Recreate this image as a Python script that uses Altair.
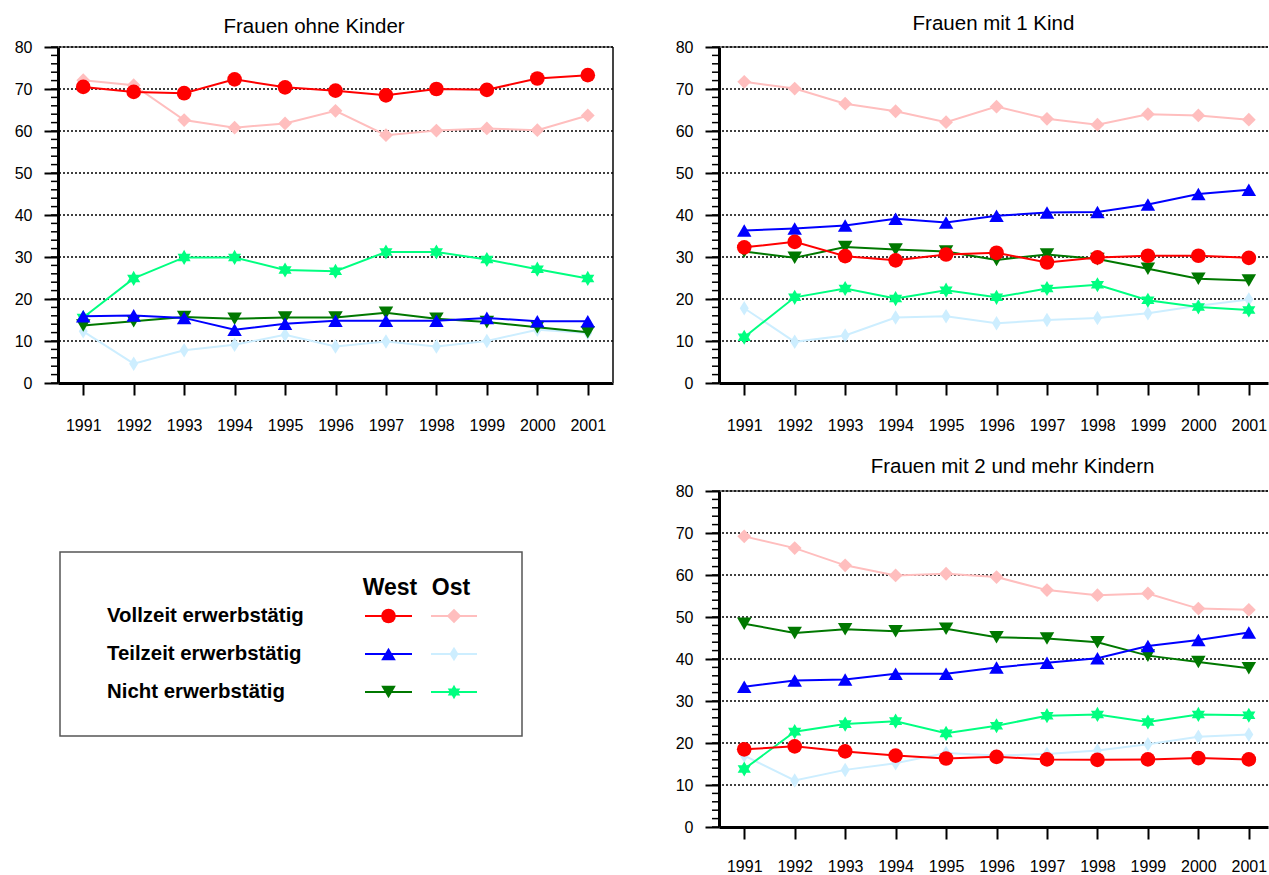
import altair as alt
import pandas as pd

years = [1991, 1992, 1993, 1994, 1995, 1996, 1997, 1998, 1999, 2000, 2001]

# Frauen ohne Kinder
ohne_west_vollzeit = [70.5, 69.3, 69.0, 72.3, 70.4, 69.6, 68.5, 70.0, 69.8, 72.5, 73.3]
ohne_ost_vollzeit = [72.1, 70.9, 62.6, 60.8, 61.8, 64.8, 59.0, 60.1, 60.6, 60.2, 63.7]
ohne_west_teilzeit = [15.9, 16.1, 15.5, 12.7, 14.1, 14.8, 14.8, 14.8, 15.5, 14.7, 14.7]
ohne_ost_teilzeit = [12.3, 4.6, 7.8, 9.1, 11.5, 8.7, 9.9, 8.7, 10.0, 12.7, 11.9]
ohne_west_nicht = [13.7, 14.7, 15.7, 15.3, 15.6, 15.6, 16.7, 15.3, 14.5, 13.3, 12.1]
ohne_ost_nicht = [15.6, 24.9, 29.9, 29.9, 26.9, 26.6, 31.2, 31.2, 29.4, 27.1, 24.9]

# Frauen mit 1 Kind
eins_west_vollzeit = [32.3, 33.6, 30.2, 29.2, 30.6, 31.0, 28.7, 29.9, 30.3, 30.3, 29.8]
eins_ost_vollzeit = [71.7, 70.1, 66.5, 64.7, 62.1, 65.8, 62.9, 61.5, 64.0, 63.7, 62.7]
eins_west_teilzeit = [36.3, 36.8, 37.5, 39.1, 38.2, 39.8, 40.6, 40.7, 42.5, 45.0, 46.0]
eins_ost_teilzeit = [17.8, 9.8, 11.3, 15.6, 15.9, 14.2, 15.0, 15.5, 16.6, 18.4, 19.9]
eins_west_nicht = [31.3, 29.8, 32.4, 31.8, 31.3, 29.3, 30.6, 29.5, 27.2, 24.8, 24.4]
eins_ost_nicht = [10.9, 20.4, 22.5, 20.1, 22.1, 20.4, 22.5, 23.4, 19.7, 18.1, 17.4]

# Frauen mit 2 und mehr Kindern
zwei_west_vollzeit = [18.5, 19.2, 18.0, 17.0, 16.3, 16.7, 16.1, 16.0, 16.1, 16.4, 16.1]
zwei_ost_vollzeit = [69.2, 66.4, 62.3, 59.9, 60.3, 59.5, 56.4, 55.2, 55.6, 52.0, 51.7]
zwei_west_teilzeit = [33.4, 34.9, 35.1, 36.5, 36.5, 38.0, 39.1, 40.2, 43.1, 44.5, 46.3]
zwei_ost_teilzeit = [17.0, 11.1, 13.6, 15.2, 17.6, 17.0, 17.4, 18.2, 19.7, 21.5, 22.0]
zwei_west_nicht = [48.4, 46.2, 47.1, 46.6, 47.2, 45.2, 44.9, 44.0, 40.8, 39.3, 37.8]
zwei_ost_nicht = [13.8, 22.7, 24.5, 25.2, 22.3, 24.1, 26.5, 26.8, 25.0, 26.8, 26.6]

panel_titles = ["Frauen ohne Kinder", "Frauen mit 1 Kind", "Frauen mit 2 und mehr Kindern"]

legend_labels = ["Vollzeit erwerbstätig", "Teilzeit erwerbstätig", "Nicht erwerbstätig"]
legend_west = ["West Vollzeit", "West Teilzeit", "West Nicht"]
legend_ost = ["Ost Vollzeit", "Ost Teilzeit", "Ost Nicht"]

y_major = [0, 10, 20, 30, 40, 50, 60, 70, 80]
y_minor = list(range(0, 81, 2))
grid_levels = [10, 20, 30, 40, 50, 60, 70, 80]

# symbol shapes
STAR = ("M0,-1L0.289,-0.5L0.866,-0.5L0.577,0L0.866,0.5L0.289,0.5L0,1"
        "L-0.289,0.5L-0.866,0.5L-0.577,0L-0.866,-0.5L-0.289,-0.5Z")
NARROW_DIAMOND = "M0,-1L0.62,0L0,1L-0.62,0Z"

styles = {
    "West Vollzeit": dict(color="#ff0000", shape="circle", size=215),
    "West Teilzeit": dict(color="#0000ff", shape="triangle-up", size=210),
    "West Nicht": dict(color="#007800", shape="triangle-down", size=210),
    "Ost Vollzeit": dict(color="#ffbebe", shape="diamond", size=190),
    "Ost Teilzeit": dict(color="#cdeeff", shape=NARROW_DIAMOND, size=210),
    "Ost Nicht": dict(color="#00ff80", shape=STAR, size=230),
}
draw_order = ["Ost Teilzeit", "Ost Vollzeit", "Ost Nicht",
              "West Nicht", "West Teilzeit", "West Vollzeit"]

panels = [
    {"West Vollzeit": ohne_west_vollzeit, "Ost Vollzeit": ohne_ost_vollzeit,
     "West Teilzeit": ohne_west_teilzeit, "Ost Teilzeit": ohne_ost_teilzeit,
     "West Nicht": ohne_west_nicht, "Ost Nicht": ohne_ost_nicht},
    {"West Vollzeit": eins_west_vollzeit, "Ost Vollzeit": eins_ost_vollzeit,
     "West Teilzeit": eins_west_teilzeit, "Ost Teilzeit": eins_ost_teilzeit,
     "West Nicht": eins_west_nicht, "Ost Nicht": eins_ost_nicht},
    {"West Vollzeit": zwei_west_vollzeit, "Ost Vollzeit": zwei_ost_vollzeit,
     "West Teilzeit": zwei_west_teilzeit, "Ost Teilzeit": zwei_ost_teilzeit,
     "West Nicht": zwei_west_nicht, "Ost Nicht": zwei_ost_nicht},
]

FONT = "Liberation Sans"


def x_enc(xmax, label_pad):
    return alt.X(
        "year:Q",
        scale=alt.Scale(domain=[1990.5, xmax], nice=False, zero=False),
        axis=alt.Axis(values=years, format="d", title=None, grid=False,
                      tickSize=12, tickWidth=2, tickColor="black",
                      domainWidth=3, domainColor="black",
                      labelFontSize=16, labelPadding=label_pad, labelBaseline="middle",
                      labelFlush=False, labelOverlap=False, labelColor="black"),
    )


def y_enc():
    return alt.Y(
        "value:Q",
        scale=alt.Scale(domain=[0, 80], nice=False),
        axis=alt.Axis(values=y_major, title=None, grid=False,
                      tickSize=14, tickWidth=2, tickColor="black",
                      domainWidth=3, domainColor="black",
                      labelFontSize=16, labelPadding=12,
                      labelFlush=False, labelColor="black"),
    )


def make_panel(title, series, width, xmax, offset, dx=0, frame="group",
               right_edge=False, label_pad=30):
    X = x_enc(xmax, label_pad)
    Y = y_enc()
    layers = []

    # solid top edge of the frame
    top = pd.DataFrame({"year": [1990.5], "year_end": [xmax], "value": [80]})
    layers.append(alt.Chart(top).mark_rule(color="#555555", strokeWidth=1.5)
                  .encode(x=X, x2="year_end:Q", y=Y))
    if right_edge:
        side = pd.DataFrame({"year": [xmax], "value": [0], "value_end": [80]})
        layers.append(alt.Chart(side).mark_rule(color="#444444", strokeWidth=2)
                      .encode(x=X, y=Y, y2="value_end:Q"))

    # dotted horizontal grid
    grid = pd.DataFrame({"value": grid_levels})
    layers.append(alt.Chart(grid).mark_rule(color="black", strokeWidth=1.5, strokeDash=[2, 2])
                  .encode(y=Y))

    # minor ticks on the value axis
    minor = pd.DataFrame({"value": y_minor})
    layers.append(alt.Chart(minor).mark_rule(color="black", strokeWidth=1.5)
                  .encode(y=Y, x=alt.value(-7), x2=alt.value(0)))

    for name in draw_order:
        st = styles[name]
        df = pd.DataFrame({"year": years, "value": series[name]})
        base = alt.Chart(df)
        layers.append(base.mark_line(color=st["color"], strokeWidth=2).encode(x=X, y=Y))
        layers.append(base.mark_point(shape=st["shape"], size=st["size"], filled=True,
                                      color=st["color"], opacity=1).encode(x=X, y=Y))

    return alt.layer(*layers).properties(
        width=width, height=336,
        title=alt.TitleParams(title, fontSize=20.5, fontWeight="normal", color="black",
                              font=FONT, offset=offset, dx=dx, frame=frame),
    )


p1 = make_panel(panel_titles[0], panels[0], 555, 2001.5, offset=2, frame="bounds", right_edge=True)
p2 = make_panel(panel_titles[1], panels[1], 549, 2001.38, offset=5)
p3 = make_panel(panel_titles[2], panels[2], 549, 2001.38, offset=6, dx=19, label_pad=27)

# ---- legend block ----
all_names = list(styles.keys())
color_scale = alt.Scale(domain=all_names, range=[styles[n]["color"] for n in all_names])
shape_scale = alt.Scale(domain=all_names, range=[styles[n]["shape"] for n in all_names])
size_scale = alt.Scale(domain=all_names, range=[styles[n]["size"] for n in all_names])

leg_df = pd.DataFrame({"row": legend_labels, "west": legend_west, "ost": legend_ost})
row_y = alt.Y("row:N", scale=alt.Scale(type="point", domain=legend_labels, range=[64, 140], padding=0),
              axis=None)

box = alt.Chart(pd.DataFrame({"box": [0]})).mark_rect(
    fill="white", stroke="#555555", strokeWidth=1.5
).encode(x=alt.value(2), x2=alt.value(464), y=alt.value(0), y2=alt.value(184))

row_text = alt.Chart(leg_df).mark_text(
    align="left", baseline="middle", fontSize=20.4, fontWeight="bold", color="black", font=FONT
).encode(y=row_y, x=alt.value(49), text="row:N")

head_west = alt.Chart(pd.DataFrame({"h": ["West"]})).mark_text(
    align="center", baseline="alphabetic", fontSize=23, fontWeight="bold", color="black", font=FONT
).encode(text="h:N", x=alt.value(332), y=alt.value(43))
head_ost = alt.Chart(pd.DataFrame({"h": ["Ost"]})).mark_text(
    align="center", baseline="alphabetic", fontSize=23, fontWeight="bold", color="black", font=FONT
).encode(text="h:N", x=alt.value(393), y=alt.value(43))


def legend_symbols(field, x_start, x_end):
    base = alt.Chart(leg_df)
    col = alt.Color(f"{field}:N", scale=color_scale, legend=None)
    rule = base.mark_rule(strokeWidth=2).encode(
        y=row_y, x=alt.value(x_start), x2=alt.value(x_end), color=col)
    pts = base.mark_point(filled=True, opacity=1).encode(
        y=row_y, x=alt.value((x_start + x_end) / 2), color=col,
        shape=alt.Shape(f"{field}:N", scale=shape_scale, legend=None),
        size=alt.Size(f"{field}:N", scale=size_scale, legend=None))
    return [rule, pts]


legend = alt.layer(
    box, row_text, head_west, head_ost,
    *legend_symbols("west", 307, 354),
    *legend_symbols("ost", 373, 419),
).properties(width=465, height=184)

left = alt.vconcat(p1, legend, spacing=118)
right = alt.vconcat(p2, p3, spacing=23)

chart = alt.hconcat(left, right, spacing=61).properties(
    padding={"left": 14, "top": 13, "right": 0, "bottom": 0}
).configure(font=FONT).configure_view(stroke=None)

chart.save("out.html", embed_options={"renderer": "svg", "actions": False})
